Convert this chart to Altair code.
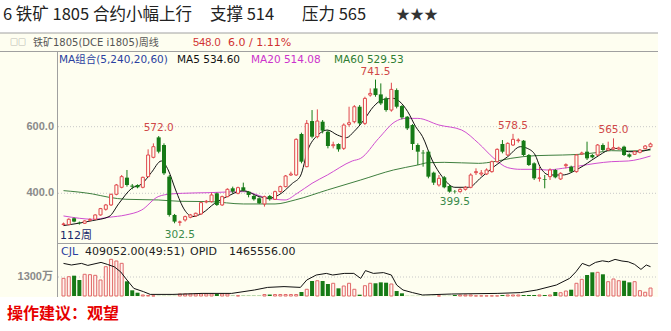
import altair as alt
import pandas as pd

# ---------------- data ----------------
opens = [306, 306, 325, 312, 310, 319, 322, 335, 352, 365,
         397, 418, 447, 423, 425, 418, 450, 508, 568, 545,
         450, 335, 313, 320, 328, 332, 338, 374, 375, 400,
         365, 390, 415, 400, 418, 405, 392, 385, 368, 392,
         382, 405, 420, 455, 455, 578, 480, 617, 570, 615,
         585, 543, 548, 535, 607, 615, 660, 610, 695, 715,
         697, 685, 650, 710, 662, 630, 605, 545, 522, 525,
         462, 425, 448, 422, 405, 405, 412, 418, 462, 458,
         458, 465, 495, 548, 515, 545, 558, 558, 515, 490,
         445, 442, 450, 470, 443, 483, 480, 465, 518, 525,
         515, 515, 545, 530, 533, 533, 540, 517, 517, 523,
         534, 540]
highs = [312, 325, 327, 315, 319, 325, 337, 356, 368, 399,
         428, 455, 470, 428, 427, 450, 532, 550, 572, 550,
         455, 338, 318, 333, 338, 342, 375, 380, 402, 402,
         393, 415, 420, 420, 432, 407, 395, 388, 393, 395,
         408, 423, 455, 465, 565, 582, 620, 650, 652, 620,
         590, 555, 550, 610, 660, 665, 665, 690, 715, 741.5,
         730, 690, 732, 715, 665, 632, 608, 550, 530, 528,
         465, 455, 452, 425, 410, 415, 422, 460, 475, 470,
         475, 498, 535, 560, 553, 578.5, 565, 560, 518, 493,
         480, 455, 475, 473, 463, 490, 483, 518, 525, 555,
         518, 548, 550, 555, 565, 540, 543, 520, 528, 533,
         545, 552]
lows = [303, 304, 313, 306, 308, 316, 320, 333, 348, 362,
        394, 415, 420, 412, 415, 415, 448, 505, 520, 455,
        330, 310, 302.5, 315, 325, 330, 335, 370, 372, 362,
        362, 388, 400, 397, 405, 388, 378, 368, 360, 378,
        380, 402, 418, 452, 452, 490, 478, 565, 565, 580,
        535, 535, 525, 530, 600, 610, 605, 605, 690, 690,
        665, 645, 645, 655, 622, 590, 530, 485, 480, 445,
        425, 420, 415, 402, 399.5, 402, 408, 415, 455, 452,
        455, 462, 492, 520, 512, 542, 552, 512, 482, 440,
        435, 415, 440, 445, 440, 475, 462, 462, 515, 500,
        505, 512, 527, 528, 530, 530, 512, 507, 515, 520,
        532, 538]
closes = [308, 322, 315, 310, 317, 321, 335, 354, 365, 397,
          425, 450, 425, 420, 418, 448, 515, 540, 525, 460,
          335, 315, 314, 330, 335, 340, 372, 376, 395, 365,
          390, 412, 405, 417, 408, 395, 382, 370, 390, 382,
          405, 420, 452, 458, 562, 495, 610, 570, 617, 588,
          542, 546, 532, 605, 612, 660, 610, 685, 700, 695,
          670, 650, 712, 660, 628, 595, 548, 525, 520, 450,
          432, 445, 418, 405, 404, 412, 418, 455, 465, 461,
          470, 495, 532, 525, 550, 562, 560, 515, 485, 445,
          446, 440, 470, 448, 460, 486, 465, 515, 521, 505,
          508, 545, 530, 535, 537, 536, 515, 510, 525, 530,
          542, 548]
volumes = [1210, 1320, 1390, 1095, 1485, 1460, 1415, 1095, 2005, 2510,
           2395, 2235, 1005, 390, 225, 70, 35, 10, 10, 10,
           10, 10, 140, 140, 140, 140, 140, 140, 140, 140,
           140, 140, 20, 20, 20, 20, 20, 20, 100, 100,
           100, 100, 100, 100, 100, 275, 460, 1025, 1045, 1025,
           820, 870, 525, 685, 870, 460, 90, 705, 870, 870,
           935, 910, 820, 340, 185, 10, 10, 10, 10, 10,
           10, 10, 10, 10, 70, 70, 70, 70, 10, 10,
           10, 10, 10, 70, 70, 70, 70, 70, 70, 70,
           70, 70, 70, 275, 225, 340, 430, 870, 1140, 1435,
           1620, 1620, 1485, 980, 1165, 1045, 1045, 935, 980, 365,
           255, 545]

ma5_idx = [0, 5.5, 8.6, 10.5, 12.9, 14.8, 16.6, 18.5, 19.8, 21.2, 22.9, 24.4, 26.2,
           28.6, 30.9, 34, 37, 38.8, 40.7, 43.3, 44.8, 46.2, 48.1, 49.9, 51.8, 53.5,
           54.9, 56.8, 58.6, 60.5, 62.4, 63.6, 65.1, 66.6, 67.9, 69.7, 71.6, 74, 76.6,
           79, 81.4, 84, 86.4, 87.7, 89.2, 90.1, 91.9, 94.4, 97.5, 100.7, 103.1, 104.9,
           106.8, 108.6, 111]
ma5_val = [303, 318, 330, 370, 415, 428, 462, 497, 470, 410, 350, 330, 340,
           370, 390, 408, 390, 385, 395, 430, 452, 530, 575, 590, 575, 567,
           585, 620, 660, 682, 685, 675, 645, 600, 570, 500, 450, 418, 418,
           448, 480, 510, 540, 535, 515, 480, 455, 455, 475, 508, 530, 535,
           525, 525, 533]
ma20_idx = [0, 3, 5.5, 8.6, 11.8, 14.8, 17.9, 20.3, 22.5, 27.7, 34, 38.8, 41.9, 44.2,
            47, 49.9, 54.6, 56.2, 59.6, 62.7, 64.6, 67, 71, 75.3, 78.5, 81.4, 84, 86.4,
            89.2, 91.4, 94.4, 97.5, 100.7, 103.6, 106.8, 111]
ma20_val = [332, 325, 322, 328, 335, 350, 390, 398, 400, 402, 405, 385, 380, 400,
            430, 455, 497, 505, 565, 615, 625, 625, 605, 590, 550, 505, 477, 472,
            472, 470, 475, 482, 490, 495, 497, 512]
ma60_idx = [0, 5.5, 8.6, 11.8, 17.9, 22, 27.7, 34, 40, 43.8, 49.9, 56.2, 62.4, 67,
            69, 72, 78.5, 81.4, 84.6, 89.2, 94.4, 97.5, 100.7, 103.6, 106.8, 111]
ma60_val = [408, 398, 388, 382, 380, 376, 375, 368, 368, 380, 410, 440, 470, 485,
            492, 493, 490, 495, 505, 513, 515, 517, 522, 528, 527, 530]
opid_idx = [0, 1.5, 3.4, 4.6, 7.1, 8.3, 9.6, 10.8, 12, 13.3, 15.1, 16.4, 20.7, 26.2,
            31.8, 36.1, 38.6, 41.7, 44.8, 46, 47.8, 49.7, 50.9, 53.1, 54.9, 56.2, 57.1,
            58.6, 60.5, 62, 63, 64.2, 66, 67.9, 73.4, 82, 86.4, 89.5, 93.2, 95.7, 96.9,
            98.1, 99.4, 100.6, 101.9, 103.1, 104.3, 105.6, 106.8, 108, 109.2, 110.2, 111]
opid_val = [163, 155, 163, 153, 168, 158, 146, 121, 80, 38, 22, 8, 8, 13,
            13, 30, 43, 47, 43, 80, 105, 113, 105, 113, 113, 88, 127,
            113, 117, 105, 55, 30, 17, 5, 10, 13, 17, 30, 55, 88, 121,
            163, 150, 168, 176, 171, 183, 175, 171, 158, 133, 155, 146.6]

price_ticks = [400, 600]
price_tick_labels = ["400.0", "600.0"]
vol_ticks = [1300]
vol_tick_labels = ["1300万"]

extreme_idx = [18, 59, 85, 104, 22, 74]
extreme_val = [572.0, 741.5, 578.5, 565.0, 302.5, 399.5]
extreme_kind = ["high", "high", "high", "high", "low", "low"]

# ---------------- styling ----------------
CREAM = "#FEFEF0"
RED = "#E0474C"
GREEN = "#167A16"
FONT = "DejaVu Sans, Noto Sans CJK SC"
CJK = "Noto Sans CJK SC"

n = len(closes)
df = pd.DataFrame({"idx": list(range(n)), "open": opens, "high": highs, "low": lows,
                   "close": closes, "vol": volumes})
up = df[df["close"] >= df["open"]]
dn = df[df["close"] < df["open"]]

xs = alt.Scale(domain=[0, n - 1], range=[58.5, 655.5], nice=False, zero=False)
ps = alt.Scale(domain=[400, 600], range=[193.3, 126.7], nice=False, zero=False)
vs = alt.Scale(domain=[0, 1300], range=[296, 277], nice=False, zero=False)
os_ = alt.Scale(domain=[0, 150], range=[296, 266], nice=False, zero=False)

X = alt.X("idx:Q", scale=xs, axis=None)
one = pd.DataFrame({"a": [0]})

def txt(s, x, y, color="#222", size=11, font=FONT, weight="normal", align="left"):
    return alt.Chart(one).mark_text(text=s, align=align, baseline="middle", font=font,
                                    fontSize=size, fontWeight=weight, color=color).encode(
        x=alt.value(x), y=alt.value(y))

def hline(x1, x2, y, color="#A0A0A0"):
    return alt.Chart(one).mark_rule(color=color, strokeWidth=1).encode(
        x=alt.value(x1), x2=alt.value(x2), y=alt.value(y))

layers = []
# panel background and frame
layers.append(alt.Chart(one).mark_rect(color=CREAM).encode(
    x=alt.value(0), x2=alt.value(658), y=alt.value(33), y2=alt.value(297)))
layers.append(hline(0, 658, 33))
layers.append(hline(0, 658, 51.5))
layers.append(hline(57.5, 658, 243.5))
layers.append(alt.Chart(one).mark_rule(color="#A0A0A0").encode(
    x=alt.value(57.5), y=alt.value(51.5), y2=alt.value(297)))

# grid lines
pt = pd.DataFrame({"p": price_ticks, "lab": price_tick_labels})
layers.append(alt.Chart(pt).mark_rule(color="#C8C8C8", strokeDash=[1, 2]).encode(
    y=alt.Y("p:Q", scale=ps, axis=None), x=alt.value(58), x2=alt.value(656)))
layers.append(alt.Chart(pt).mark_text(align="right", baseline="middle", font="Liberation Sans",
                                      fontSize=11, fontWeight="bold", color="#8A8A8A").encode(
    y=alt.Y("p:Q", scale=ps, axis=None), x=alt.value(54), text="lab:N"))
vt = pd.DataFrame({"v": vol_ticks, "lab": vol_tick_labels})
layers.append(alt.Chart(vt).mark_rule(color="#C8C8C8", strokeDash=[1, 2]).encode(
    y=alt.Y("v:Q", scale=vs, axis=None), x=alt.value(58), x2=alt.value(656)))
layers.append(alt.Chart(vt).mark_text(align="right", baseline="middle", font="Liberation Sans, Noto Sans CJK SC",
                                      fontSize=11, fontWeight="bold", color="#8A8A8A").encode(
    y=alt.Y("v:Q", scale=vs, axis=None), x=alt.value(53), text="lab:N"))

# MA lines (behind candles)
for idx, val, col in [(ma60_idx, ma60_val, "#3F7F3F"), (ma20_idx, ma20_val, "#D04ED0"),
                      (ma5_idx, ma5_val, "#111111")]:
    d = pd.DataFrame({"idx": idx, "v": val})
    layers.append(alt.Chart(d).mark_line(color=col, strokeWidth=1, interpolate="monotone").encode(
        x=X, y=alt.Y("v:Q", scale=ps, axis=None)))

# candles
layers.append(alt.Chart(up).mark_rule(color=RED, strokeWidth=1).encode(
    x=X, y=alt.Y("low:Q", scale=ps, axis=None), y2="high:Q"))
layers.append(alt.Chart(dn).mark_rule(color=GREEN, strokeWidth=1).encode(
    x=X, y=alt.Y("low:Q", scale=ps, axis=None), y2="high:Q"))
layers.append(alt.Chart(up).mark_bar(size=3, fill=CREAM, stroke=RED, strokeWidth=1).encode(
    x=X, y=alt.Y("open:Q", scale=ps, axis=None), y2="close:Q"))
layers.append(alt.Chart(dn).mark_bar(size=4, color=GREEN).encode(
    x=X, y=alt.Y("open:Q", scale=ps, axis=None), y2="close:Q"))

# extreme labels
ex = pd.DataFrame({"idx": extreme_idx, "v": extreme_val, "kind": extreme_kind,
                   "lab": [f"{v:.1f}" for v in extreme_val]})
layers.append(alt.Chart(ex[ex["kind"] == "high"]).mark_text(
    baseline="middle", dy=-8, font="DejaVu Sans", fontSize=10.5, color="#D04848").encode(
    x=X, y=alt.Y("v:Q", scale=ps, axis=None), text="lab:N"))
layers.append(alt.Chart(ex[ex["kind"] == "low"]).mark_text(
    baseline="middle", dy=9, font="DejaVu Sans", fontSize=10.5, color="#3A8A4A").encode(
    x=X, y=alt.Y("v:Q", scale=ps, axis=None), text="lab:N"))

# volume bars
layers.append(alt.Chart(up).mark_bar(size=3, fill="#FFF4F0", stroke="#E06868", strokeWidth=1).encode(
    x=X, y=alt.Y("vol:Q", scale=vs, axis=None), y2=alt.datum(0)))
layers.append(alt.Chart(dn).mark_bar(size=4, color=GREEN).encode(
    x=X, y=alt.Y("vol:Q", scale=vs, axis=None), y2=alt.datum(0)))

# open interest line
od = pd.DataFrame({"idx": opid_idx, "v": opid_val})
layers.append(alt.Chart(od).mark_line(color="#111111", strokeWidth=1).encode(
    x=X, y=alt.Y("v:Q", scale=os_, axis=None)))

# texts
layers += [
    txt("6 铁矿 1805 合约小幅上行", 3, 15, "#222", 16.5, CJK),
    txt("支撑 514", 210, 15, "#222", 16.5, CJK),
    txt("压力 565", 302, 15, "#222", 16.5, CJK),
    txt("★★★", 396, 15, "#333", 14, CJK),
    txt("□□", 10, 43, "#777", 8, CJK),
    txt("铁矿1805(DCE i1805)周线", 33, 43, "#555", 10, FONT),
    txt("548.0", 193, 43, "#D03030", 11, "Liberation Sans"),
    txt("6.0 / 1.11%", 228, 43, "#D03030", 11, FONT),
    txt("MA组合(5,240,20,60)", 59, 60, "#2A3FA0", 10.5, FONT),
    txt("MA5 534.60", 177, 60, "#111", 10.5, FONT),
    txt("MA20 514.08", 251, 60, "#CC33CC", 10.5, FONT),
    txt("MA60 529.53", 334, 60, "#2E7D32", 10.5, FONT),
    txt("112周", 60, 236, "#1A2A6A", 11, FONT),
    txt("CJL", 61, 252, "#2A3FA0", 11, FONT),
    txt("409052.00(49:51)", 85, 252, "#222", 11, FONT),
    txt("OPID", 190, 252, "#222", 11, FONT),
    txt("1465556.00", 229, 252, "#222", 11, FONT),
    txt("操作建议：观望", 7, 314, "#E60000", 16, CJK, "bold"),
]

chart = alt.layer(*layers).properties(
    width=671, height=331, padding=0, background="white",
    autosize=alt.AutoSizeParams(type="none"),
).resolve_scale(y="independent").configure_view(stroke=None)

chart.save("out.html", embed_options={"renderer": "svg", "actions": False})
